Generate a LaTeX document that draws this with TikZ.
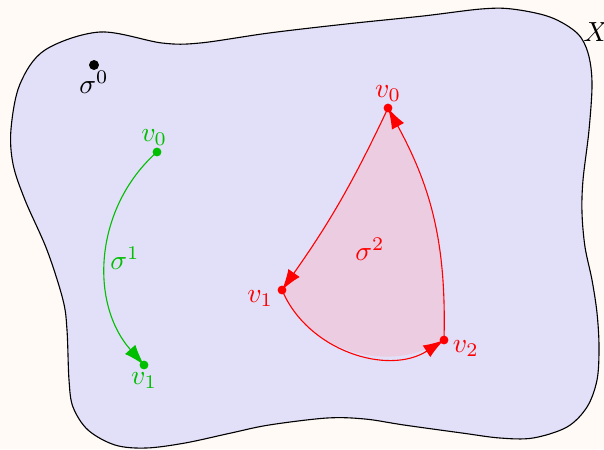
\documentclass[tikz,border=0pt]{standalone}
\usepackage{amsmath, amssymb}
\usepackage{xcolor}
\usepackage{tikz}
\usetikzlibrary{arrows.meta, positioning, calc}
\definecolor{mbg}{RGB}{255, 250, 246}
\definecolor{mblob}{RGB}{226, 223, 248}
\definecolor{mpink}{RGB}{236, 204, 224}
\definecolor{mgreen}{RGB}{0, 190, 0}
\definecolor{mred}{RGB}{255, 0, 0}

\begin{document}
\begin{tikzpicture}[
      x=0.0127cm, y=0.0127cm,
      lbl/.style ={inner sep=1pt},
      garr/.style={mgreen, -{Latex[length=7.5pt, width=5pt]}},
      rarr/.style={mred, -{Latex[length=7.5pt, width=5pt]}},
    ]
      % canvas
      \fill[mbg] (0,0) rectangle (604,449);
      \useasboundingbox (0,0) rectangle (604,449);

      % the space X
      \draw[fill=mblob, thin] plot[smooth cycle, tension=0.55] coordinates {
        (11,320) (20,365) (45,399) (100,417) (162,406)
        (200,406) (269,416) (346,425) (423,433) (481,440) (512,440)
        (550,432) (577,416) (588,396) (592,366) (589,319) (583,269)
        (582,236) (585,202) (592,169) (597,136) (599,102) (597,69)
        (587,42) (567,22) (533,11) (500,11) (462,16) (404,24) (365,30)
        (327,31) (269,24) (231,16) (185,6) (146,1) (115,4) (88,19)
        (73,42) (69,69) (67,119) (63,149) (47,199) (25,249) (13,285)};
      \node[lbl] (xlab) at (596,417) {$X$};

      % vertices
      \coordinate (s0)  at (94,384);
      \coordinate (gv0) at (157,297);
      \coordinate (gv1) at (144,84);
      \coordinate (rv0) at (388,341);
      \coordinate (rv1) at (282,159);
      \coordinate (rv2) at (444,109);

      % 2-cell
      \fill[mpink] (rv0) to[bend left=5] (rv1) to[bend right=50] (rv2)
                   to[bend right=15] (rv0) -- cycle;
      \draw[rarr] (rv0) to[bend left=5]   (rv1);
      \draw[rarr] (rv1) to[bend right=50] (rv2);
      \draw[rarr] (rv2) to[bend right=15] (rv0);

      % 1-cell
      \draw[garr] (gv0) to[bend right=45] (gv1);

      \fill (s0) circle[radius=1.8pt];
      \fill[mgreen] (gv0) circle[radius=1.6pt] (gv1) circle[radius=1.6pt];
      \fill[mred] (rv0) circle[radius=1.6pt] (rv1) circle[radius=1.6pt]
                  (rv2) circle[radius=1.6pt];

      % labels
      \node[lbl, below=1pt of s0] (s0lab) {$\sigma^0$};
      \node[lbl, mgreen, above=1pt of gv0, xshift=-1pt] (gv0lab) {$v_0$};
      \node[lbl, mgreen, below=1.5pt of gv1] (gv1lab) {$v_1$};
      \node[lbl, mgreen] (s1lab) at (125,191) {$\sigma^1$};
      \node[lbl, mred, above=1pt of rv0] (rv0lab) {$v_0$};
      \node[lbl, mred, left=2pt of rv1, yshift=-3pt] (rv1lab) {$v_1$};
      \node[lbl, mred, right=2pt of rv2, yshift=-3pt] (rv2lab) {$v_2$};
      \node[lbl, mred] (s2lab) at (370,200) {$\sigma^2$};
    \end{tikzpicture}
\end{document}
